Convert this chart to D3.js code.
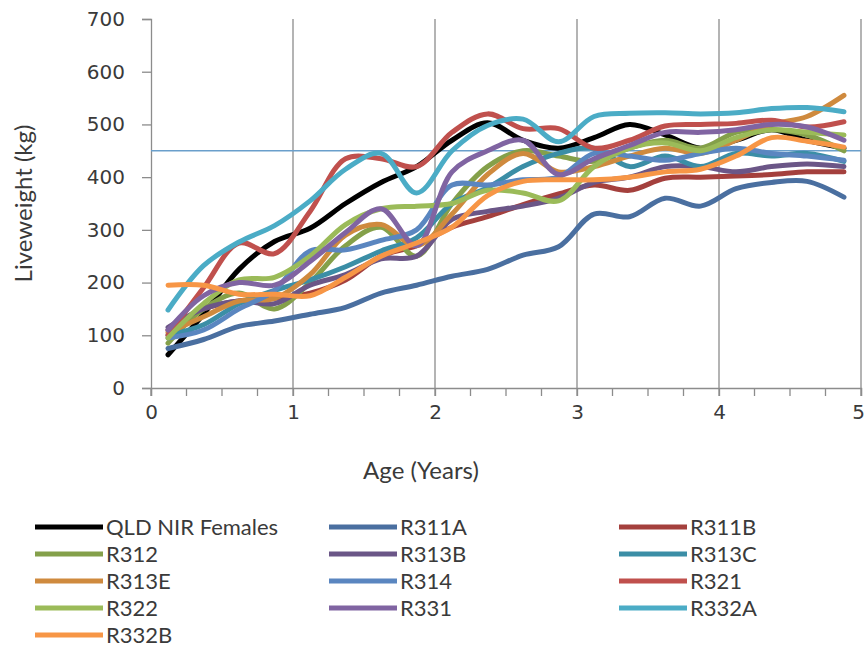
<!DOCTYPE html>
<html>
<head>
<meta charset="utf-8">
<script src="https://cdn.jsdelivr.net/npm/d3@7"></script>
<style>
  html, body { margin: 0; padding: 0; background: #ffffff; }
  svg { display: block; }
  text { font-family: Lato, "Open Sans", sans-serif; fill: #3a3a3a; }
</style>
</head>
<body>
<svg id="chart" width="866" height="666"></svg>
<script>
// Ages (years) at which each herd's liveweight is recorded
const ages = [0.12, 0.37, 0.62, 0.87, 1.12, 1.37, 1.62, 1.87, 2.12, 2.37,
              2.62, 2.87, 3.12, 3.37, 3.62, 3.87, 4.12, 4.37, 4.62, 4.88];

// Liveweight (kg) per herd
const qldNirFemales = [63, 140, 225, 278, 303, 350, 390, 420, 470, 503, 470, 455, 475, 500, 480, 455, 470, 490, 470, 455];
const r311A = [75, 92, 117, 127, 140, 153, 180, 195, 212, 225, 252, 268, 330, 325, 360, 345, 378, 390, 392, 362];
const r311B = [110, 150, 165, 170, 180, 205, 250, 270, 305, 325, 348, 368, 385, 375, 398, 400, 402, 405, 410, 410];
const r312  = [85, 150, 180, 150, 200, 270, 305, 250, 350, 420, 450, 440, 430, 455, 470, 455, 485, 490, 480, 450];
const r313B = [115, 150, 165, 160, 195, 215, 245, 250, 320, 335, 345, 360, 390, 400, 420, 420, 410, 420, 425, 420];
const r313C = [100, 120, 160, 185, 205, 230, 260, 285, 350, 380, 420, 445, 455, 420, 440, 420, 445, 440, 445, 430];
const r313E = [105, 135, 165, 170, 215, 290, 310, 270, 330, 405, 445, 410, 420, 440, 455, 445, 470, 500, 515, 555];
const r314  = [95, 110, 150, 185, 260, 262, 280, 300, 385, 385, 395, 400, 445, 440, 432, 445, 455, 445, 440, 432];
const r321  = [100, 190, 275, 255, 335, 435, 435, 420, 485, 520, 492, 492, 455, 470, 497, 500, 502, 508, 495, 505];
const r322  = [95, 160, 205, 210, 250, 310, 340, 345, 350, 375, 370, 355, 420, 455, 465, 450, 475, 490, 485, 480];
const r331  = [110, 175, 200, 195, 240, 295, 340, 270, 410, 450, 470, 405, 435, 460, 485, 485, 490, 500, 495, 470];
const r332A = [148, 232, 277, 308, 355, 415, 445, 370, 450, 498, 510, 467, 515, 521, 522, 520, 522, 530, 532, 524];
const r332B = [195, 195, 178, 178, 175, 210, 250, 275, 305, 365, 392, 395, 395, 400, 410, 415, 440, 475, 468, 457];

const seriesNames = ["QLD NIR Females", "R311A", "R311B", "R312", "R313B", "R313C",
                     "R313E", "R314", "R321", "R322", "R331", "R332A", "R332B"];
const seriesValues = [qldNirFemales, r311A, r311B, r312, r313B, r313C,
                      r313E, r314, r321, r322, r331, r332A, r332B];
const seriesColors = ["#000000", "#4a6fa0", "#a4403d", "#84a04a", "#6b5687", "#3b8ea6",
                      "#cf8a3e", "#5a86c0", "#c0504d", "#9bbb59", "#8064a2", "#4bacc6", "#f79646"];

// Target liveweight reference line
const targetWeight = 450;

const xTicks = [0, 1, 2, 3, 4, 5];
const yTicks = [0, 100, 200, 300, 400, 500, 600, 700];

const svg = d3.select("#chart");
const plot = { left: 151, right: 861, top: 19, bottom: 388 };

const x = d3.scaleLinear().domain([0, 5]).range([plot.left, plot.right]);
const y = d3.scaleLinear().domain([0, 700]).range([plot.bottom, plot.top]);

const axisGrey = "#8c8c8c";
const tickFont = "'DejaVu Sans', Verdana, sans-serif";

// Vertical gridlines at each year
svg.append("g")
  .selectAll("line")
  .data(xTicks.slice(1))
  .join("line")
  .attr("x1", d => x(d)).attr("x2", d => x(d))
  .attr("y1", plot.top).attr("y2", plot.bottom)
  .attr("stroke", axisGrey).attr("stroke-width", 1.3);

// Y axis
const yAxis = d3.axisLeft(y).tickValues(yTicks).tickSize(9).tickPadding(17);
const gy = svg.append("g").attr("transform", `translate(${plot.left},0)`).call(yAxis);
gy.select(".domain").attr("stroke", axisGrey).attr("stroke-width", 1.3);
gy.selectAll(".tick line").attr("stroke", axisGrey).attr("stroke-width", 1.3);
gy.selectAll(".tick text").attr("font-size", 20).attr("fill", "#3a3a3a")
  .style("font-family", tickFont);

// X axis: major ticks with labels, plus quarter-year minor ticks
const minorTicks = d3.range(0, 5.001, 0.25);
svg.append("g")
  .selectAll("line")
  .data(minorTicks)
  .join("line")
  .attr("x1", d => x(d)).attr("x2", d => x(d))
  .attr("y1", plot.bottom).attr("y2", plot.bottom + 8)
  .attr("stroke", axisGrey).attr("stroke-width", 1.3);

const xAxis = d3.axisBottom(x).tickValues(xTicks).tickFormat(d3.format("d")).tickSize(8).tickPadding(9);
const gx = svg.append("g").attr("transform", `translate(0,${plot.bottom})`).call(xAxis);
gx.select(".domain").attr("stroke", axisGrey).attr("stroke-width", 1.3);
gx.selectAll(".tick line").attr("stroke", axisGrey).attr("stroke-width", 1.3);
gx.selectAll(".tick text").attr("font-size", 20).attr("fill", "#3a3a3a")
  .style("font-family", tickFont)
  .attr("dx", d => d === 5 ? -3 : 0);

// Axis titles
svg.append("text")
  .attr("x", 421).attr("y", 479)
  .attr("text-anchor", "middle")
  .attr("font-size", 24)
  .text("Age (Years)");

svg.append("text")
  .attr("transform", `translate(32,${(plot.top + plot.bottom) / 2}) rotate(-90)`)
  .attr("text-anchor", "middle")
  .attr("font-size", 24)
  .text("Liveweight (kg)");

// Target line
svg.append("line")
  .attr("x1", x(0)).attr("x2", x(5))
  .attr("y1", y(targetWeight)).attr("y2", y(targetWeight))
  .attr("stroke", "#6a9fcb").attr("stroke-width", 1.6);

// Smoothed growth curves
const line = d3.line()
  .x((d, i) => x(ages[i]))
  .y(d => y(d))
  .curve(d3.curveCatmullRom.alpha(0.5));

svg.append("g")
  .selectAll("path")
  .data(seriesValues)
  .join("path")
  .attr("d", d => line(d))
  .attr("fill", "none")
  .attr("stroke", (d, i) => seriesColors[i])
  .attr("stroke-width", 5)
  .attr("stroke-linejoin", "round")
  .attr("stroke-linecap", "round");

// Legend: three columns
const legendCols = [35, 329, 619];
const legendTop = 527;
const legendRow = 27;
const legend = svg.append("g");
seriesNames.forEach((name, i) => {
  const col = i % 3, row = Math.floor(i / 3);
  const lx = legendCols[col], ly = legendTop + row * legendRow;
  legend.append("line")
    .attr("x1", lx).attr("x2", lx + 68)
    .attr("y1", ly).attr("y2", ly)
    .attr("stroke", seriesColors[i]).attr("stroke-width", 5);
  legend.append("text")
    .attr("x", lx + 71).attr("y", ly)
    .attr("dy", "0.35em")
    .attr("font-size", 22)
    .text(name);
});
</script>
</body>
</html>
